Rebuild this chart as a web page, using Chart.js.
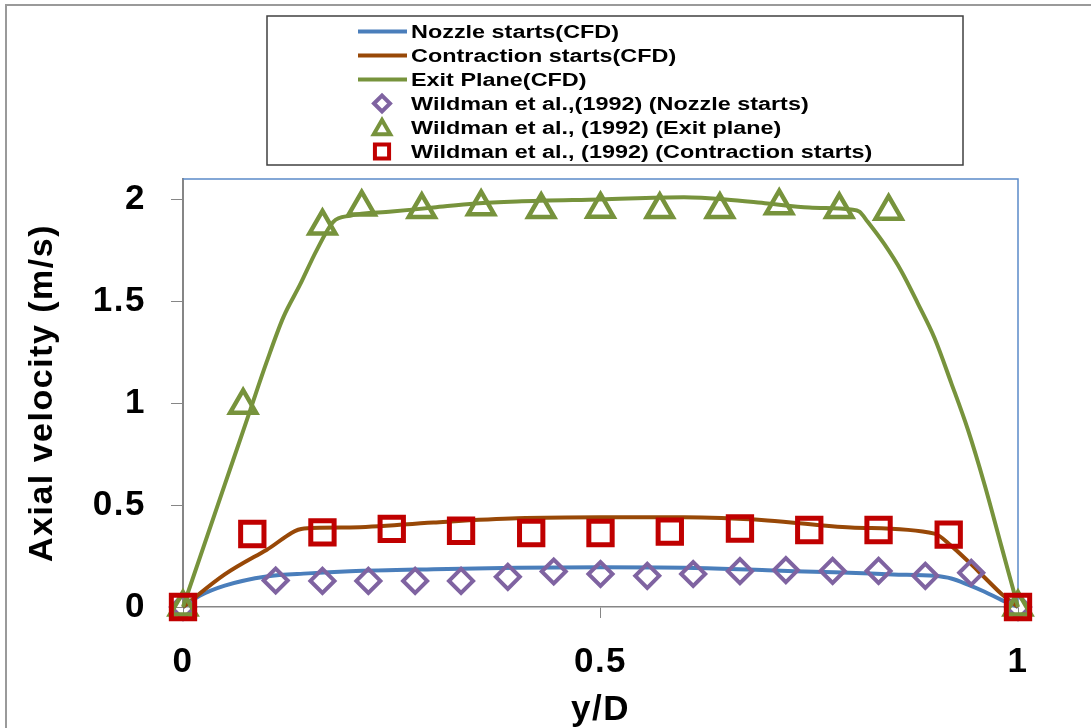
<!DOCTYPE html>
<html>
<head>
<meta charset="utf-8">
<script src="https://cdn.jsdelivr.net/npm/chart.js@4.4.1/dist/chart.umd.min.js"></script>
<style>
  html, body { margin: 0; padding: 0; background: #fff; }
  #chart { display: block; }
</style>
</head>
<body>
<canvas id="chart" width="1091" height="728"></canvas>
<script>
// axis ticks
const xTicks = [0, 0.5, 1];
const yTicks = [0, 0.5, 1, 1.5, 2];

// CFD profiles
const nozzleCfdX = [0, 0.02, 0.05, 0.1, 0.15, 0.2, 0.3, 0.4, 0.5, 0.6, 0.7, 0.78, 0.85, 0.9, 0.92, 0.94, 0.96, 0.98, 1];
const nozzleCfdY = [0, 0.055, 0.105, 0.15, 0.165, 0.175, 0.185, 0.192, 0.195, 0.193, 0.18, 0.17, 0.16, 0.153, 0.14, 0.11, 0.075, 0.035, 0];

const contrCfdX = [0, 0.05, 0.1, 0.145, 0.2, 0.3, 0.4, 0.5, 0.6, 0.7, 0.8, 0.9, 0.92, 0.94, 0.96, 0.98, 1];
const contrCfdY = [0, 0.16, 0.28, 0.385, 0.39, 0.415, 0.435, 0.44, 0.44, 0.425, 0.39, 0.36, 0.3, 0.225, 0.145, 0.065, 0];

const exitCfdX = [0, 0.02, 0.04, 0.06, 0.08, 0.1, 0.12, 0.14, 0.16, 0.18, 0.2, 0.25, 0.3, 0.35, 0.4, 0.5, 0.6, 0.65, 0.7, 0.75, 0.8, 0.81, 0.82, 0.84, 0.86, 0.88, 0.9, 0.92, 0.94, 0.96, 0.98, 1];
const exitCfdY = [0, 0.24, 0.48, 0.72, 0.96, 1.2, 1.42, 1.58, 1.75, 1.89, 1.92, 1.94, 1.96, 1.98, 1.99, 2.0, 2.01, 2.0, 1.98, 1.96, 1.95, 1.94, 1.89, 1.78, 1.65, 1.49, 1.32, 1.1, 0.87, 0.6, 0.3, 0];

// Wildman et al. (1992) measurements
const nozzleExpX = [0, 0.111, 0.167, 0.222, 0.278, 0.333, 0.389, 0.444, 0.5, 0.556, 0.611, 0.667, 0.722, 0.778, 0.833, 0.889, 0.944, 1];
const nozzleExpY = [0, 0.13, 0.128, 0.128, 0.128, 0.128, 0.148, 0.174, 0.162, 0.153, 0.162, 0.176, 0.181, 0.177, 0.177, 0.153, 0.168, 0];

const exitExpX = [0, 0.072, 0.167, 0.214, 0.286, 0.357, 0.429, 0.5, 0.571, 0.643, 0.714, 0.786, 0.845, 1];
const exitExpY = [0, 0.99, 1.87, 1.963, 1.95, 1.964, 1.95, 1.952, 1.95, 1.95, 1.969, 1.95, 1.942, 0];

const contrExpX = [0, 0.083, 0.167, 0.25, 0.333, 0.417, 0.5, 0.583, 0.667, 0.75, 0.833, 0.917, 1];
const contrExpY = [0, 0.358, 0.366, 0.383, 0.374, 0.363, 0.363, 0.37, 0.385, 0.378, 0.378, 0.355, 0];

const FONT = "'Liberation Sans', Arial, sans-serif";
const legendRadius = { rectRot: 8, triangle: 9.5, rect: 10 };

function toPoints(xs, ys) {
  return xs.map((x, i) => ({ x: x, y: ys[i] }));
}

function cfdLine(label, xs, ys, color, order) {
  return {
    label: label,
    data: toPoints(xs, ys),
    showLine: true,
    borderColor: color,
    backgroundColor: color,
    borderWidth: 4,
    pointRadius: 0,
    cubicInterpolationMode: "monotone",
    clip: false,
    order: order,
  };
}

function expMarks(label, xs, ys, color, style, radius, width, order) {
  return {
    label: label,
    data: toPoints(xs, ys),
    showLine: false,
    pointStyle: style,
    pointRadius: radius,
    pointBorderWidth: width,
    pointBorderColor: color,
    pointBackgroundColor: "rgba(0,0,0,0)",
    borderColor: color,
    clip: false,
    order: order,
  };
}

const framePlugin = {
  id: "frame",
  beforeDraw(chart) {
    const ctx = chart.ctx;
    ctx.letterSpacing = "1.5px";
    ctx.save();
    ctx.strokeStyle = "#9a9a9a";
    ctx.lineWidth = 2;
    ctx.beginPath();
    ctx.moveTo(6, 728);
    ctx.lineTo(6, 5);
    ctx.lineTo(1091, 5);
    ctx.stroke();
    ctx.restore();
  },
  beforeDatasetsDraw(chart) {
    const { ctx, chartArea } = chart;
    ctx.save();
    ctx.strokeStyle = "#5b8bc9";
    ctx.lineWidth = 1.5;
    ctx.beginPath();
    ctx.moveTo(chartArea.left, chartArea.top);
    ctx.lineTo(chartArea.right, chartArea.top);
    ctx.lineTo(chartArea.right, chartArea.bottom);
    ctx.stroke();
    ctx.restore();
  },
};

const legendPlugin = {
  id: "boxLegend",
  afterDraw(chart) {
    const ctx = chart.ctx;
    ctx.save();
    ctx.letterSpacing = "0px";
    ctx.strokeStyle = "#404040";
    ctx.lineWidth = 1.5;
    ctx.strokeRect(267, 16, 696, 149);

    chart.data.datasets.forEach((ds, i) => {
      const y = 31.5 + i * 24;
      if (ds.showLine) {
        ctx.strokeStyle = ds.borderColor;
        ctx.lineWidth = 4;
        ctx.beginPath();
        ctx.moveTo(358, y);
        ctx.lineTo(407, y);
        ctx.stroke();
      } else {
        ctx.strokeStyle = ds.pointBorderColor;
        ctx.fillStyle = "rgba(0,0,0,0)";
        ctx.lineWidth = 4;
        Chart.helpers.drawPoint(
          ctx,
          { pointStyle: ds.pointStyle, radius: legendRadius[ds.pointStyle], borderWidth: 4, rotation: 0 },
          382,
          ds.pointStyle === "triangle" ? y + 2 : y
        );
      }
      ctx.save();
      ctx.translate(411, y + 6.5);
      ctx.scale(1.3, 1);
      ctx.fillStyle = "#000";
      ctx.font = "bold 18px " + FONT;
      ctx.textBaseline = "alphabetic";
      ctx.textAlign = "left";
      ctx.fillText(ds.label, 0, 0);
      ctx.restore();
    });
    ctx.restore();
  },
};

const chart = new Chart(document.getElementById("chart"), {
  type: "scatter",
  data: {
    datasets: [
      cfdLine("Nozzle starts(CFD)", nozzleCfdX, nozzleCfdY, "#4a7ebb", 6),
      cfdLine("Contraction starts(CFD)", contrCfdX, contrCfdY, "#984807", 5),
      cfdLine("Exit Plane(CFD)", exitCfdX, exitCfdY, "#77933c", 4),
      expMarks("Wildman et al.,(1992) (Nozzle starts)", nozzleExpX, nozzleExpY, "#7f63a1", "rectRot", 12, 4, 3),
      expMarks("Wildman et al., (1992) (Exit plane)", exitExpX, exitExpY, "#77933c", "triangle", 15, 4.5, 2),
      expMarks("Wildman et al., (1992) (Contraction starts)", contrExpX, contrExpY, "#c00000", "rect", 16.5, 5, 1),
    ],
  },
  options: {
    responsive: false,
    animation: false,
    devicePixelRatio: 1,
    layout: { padding: { top: 179, right: 73, left: 0, bottom: 0 } },
    plugins: {
      legend: { display: false },
      tooltip: { enabled: false },
    },
    scales: {
      x: {
        type: "linear",
        min: 0,
        max: 1,
        afterBuildTicks: (scale) => {
          scale.ticks = xTicks.map((v) => ({ value: v }));
        },
        afterFit: (scale) => {
          scale.height = 121;
        },
        grid: {
          drawOnChartArea: false,
          drawTicks: true,
          tickLength: 11,
          color: "#868686",
          lineWidth: 1,
        },
        border: { display: true, color: "#868686", width: 1.5 },
        ticks: {
          autoSkip: false,
          maxRotation: 0,
          padding: 23,
          color: "#000",
          font: { family: FONT, size: 35, weight: "bold" },
          callback: (v) => String(v),
        },
        title: {
          display: true,
          text: "y/D",
          color: "#000",
          font: { family: FONT, size: 35, weight: "bold", lineHeight: 1.0 },
          padding: { top: 0, bottom: 0 },
        },
      },
      y: {
        type: "linear",
        min: 0,
        max: 2.1,
        afterBuildTicks: (scale) => {
          scale.ticks = yTicks.map((v) => ({ value: v }));
        },
        afterFit: (scale) => {
          scale.width = 183;
        },
        grid: {
          drawOnChartArea: false,
          drawTicks: true,
          tickLength: 12,
          color: "#868686",
          lineWidth: 1,
        },
        border: { display: true, color: "#868686", width: 2 },
        ticks: {
          padding: 25,
          color: "#000",
          font: { family: FONT, size: 35, weight: "bold" },
          callback: (v) => String(v),
        },
        title: {
          display: true,
          text: "Axial velocity (m/s)",
          color: "#000",
          font: { family: FONT, size: 34, weight: "bold", lineHeight: 1.0 },
          padding: { top: 26, bottom: 0 },
        },
      },
    },
  },
  plugins: [framePlugin, legendPlugin],
});
</script>
</body>
</html>
